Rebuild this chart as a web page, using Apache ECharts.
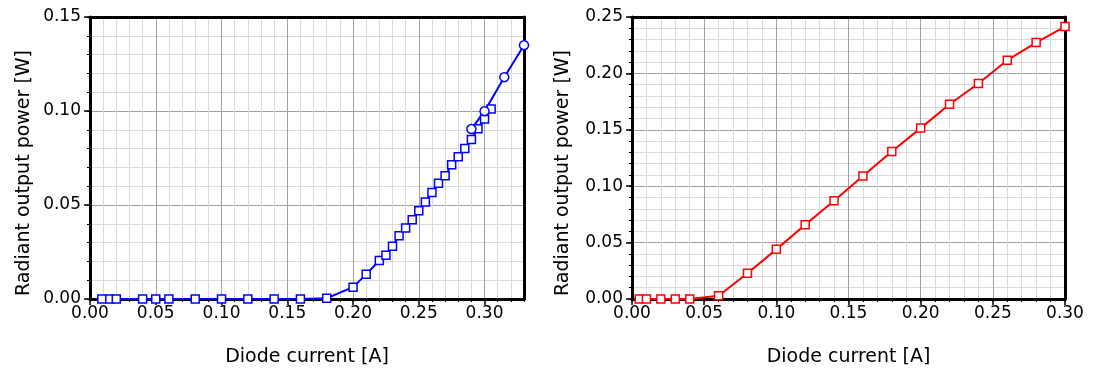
<!DOCTYPE html>
<html>
<head>
<meta charset="utf-8">
<script src="https://cdn.jsdelivr.net/npm/echarts@6/dist/echarts.min.js"></script>
<style>html,body{margin:0;padding:0;background:#fff;}#chart{width:1094px;height:369px;}</style>
</head>
<body>
<div id="chart"></div>
<script>
// ---- Data ----
const leftSquareX = [0.009, 0.015, 0.02, 0.04, 0.05, 0.06, 0.08, 0.10, 0.12, 0.14, 0.16, 0.18, 0.20, 0.21, 0.22, 0.225, 0.23, 0.235, 0.24, 0.245, 0.25, 0.255, 0.26, 0.265, 0.27, 0.275, 0.28, 0.285, 0.29, 0.295, 0.30, 0.305];
const leftSquareY = [0, 0, 0, 0, 0, 0, 0, 0, 0, 0, 0, 0.0004, 0.0063, 0.0131, 0.0205, 0.0233, 0.028, 0.0336, 0.0378, 0.0421, 0.047, 0.0516, 0.0566, 0.0616, 0.0656, 0.0714, 0.0757, 0.0801, 0.0849, 0.0906, 0.0957, 0.101];
const leftCircleX = [0.29, 0.30, 0.315, 0.33];
const leftCircleY = [0.0904, 0.0999, 0.118, 0.135];
const rightX = [0.005, 0.01, 0.02, 0.03, 0.04, 0.06, 0.08, 0.10, 0.12, 0.14, 0.16, 0.18, 0.20, 0.22, 0.24, 0.26, 0.28, 0.30];
const rightY = [0, 0, 0, 0, 0, 0.0029, 0.0228, 0.044, 0.0658, 0.0871, 0.109, 0.1308, 0.1515, 0.1727, 0.191, 0.2117, 0.2273, 0.2415];
const leftXTicks = [0, 0.05, 0.10, 0.15, 0.20, 0.25, 0.30];
const leftYTicks = [0, 0.05, 0.10, 0.15];
const rightXTicks = [0, 0.05, 0.10, 0.15, 0.20, 0.25, 0.30];
const rightYTicks = [0, 0.05, 0.10, 0.15, 0.20, 0.25];
const xName = 'Diode current [A]';
const yName = 'Radiant output power [W]';

const zip = (xs, ys) => xs.map((x, i) => [x, ys[i]]);
const FONT = 'DejaVu Sans';
const MAJOR = '#a0a0a0', MINOR = '#dadada';
const gridColors = [MAJOR, MINOR, MINOR, MINOR, MINOR];
const fmt = v => (Math.abs(v * 20 - Math.round(v * 20)) < 1e-6 ? v.toFixed(2) : '');

function axesFor(dim, g, max, ticks, nameGap) {
  const isX = dim === 'x';
  const pos = isX ? 'bottom' : 'left';
  const opp = isX ? 'top' : 'right';
  const base = { type: 'value', gridIndex: g, min: 0, max: max };
  return [
    // minor grid (every 0.01, darker every 0.05) and minor ticks
    Object.assign({}, base, {
      position: pos, interval: 0.01,
      axisLine: { show: false, onZero: false },
      axisTick: { show: true, length: 3, inside: false, lineStyle: { color: '#000', width: 1 } },
      axisLabel: { show: false },
      splitLine: { show: true, lineStyle: { color: gridColors, width: 1 } }
    }),
    // main axis with labels, major ticks and name
    Object.assign({}, base, {
      position: pos, interval: 0.05,
      name: isX ? xName : yName,
      nameLocation: 'middle', nameGap: nameGap,
      nameTextStyle: isX
        ? { fontFamily: FONT, fontSize: 19, color: '#000' }
        : { fontFamily: FONT, fontSize: 19, color: '#000', padding: [0, 30, 0, 0] },
      axisLine: { show: true, onZero: false, lineStyle: { color: '#000', width: 3 } },
      axisTick: { show: true, length: 6, customValues: ticks, lineStyle: { color: '#000', width: 1.5 } },
      axisLabel: { show: true, customValues: ticks, formatter: fmt, fontFamily: FONT, fontSize: 17, color: '#000', margin: isX ? 6 : 9 },
      splitLine: { show: false },
      minorSplitLine: { show: false }
    }),
    // frame side
    Object.assign({}, base, {
      position: opp, interval: 0.05,
      axisLine: { show: true, onZero: false, lineStyle: { color: '#000', width: 3 } },
      axisTick: { show: false }, axisLabel: { show: false }, splitLine: { show: false }
    })
  ];
}

const option = {
  animation: false,
  backgroundColor: '#fff',
  grid: [
    { left: 90, top: 17, width: 434, height: 282, containLabel: false, outerBoundsMode: 'none' },
    { left: 632, top: 17, width: 433, height: 282, containLabel: false, outerBoundsMode: 'none' }
  ],
  xAxis: [].concat(axesFor('x', 0, 0.33, leftXTicks, 49), axesFor('x', 1, 0.30, rightXTicks, 49)),
  yAxis: [].concat(axesFor('y', 0, 0.15, leftYTicks, 56), axesFor('y', 1, 0.25, rightYTicks, 59)),
  series: [
    {
      type: 'line', xAxisIndex: 0, yAxisIndex: 0, data: zip(leftSquareX, leftSquareY),
      symbol: 'rect', symbolSize: 8, clip: false,
      lineStyle: { color: '#0000ff', width: 2 },
      itemStyle: { color: '#fff', borderColor: '#0000ff', borderWidth: 1.5 }
    },
    {
      type: 'line', xAxisIndex: 0, yAxisIndex: 0, data: zip(leftCircleX, leftCircleY),
      symbol: 'circle', symbolSize: 9, clip: false,
      lineStyle: { color: '#0000ff', width: 2 },
      itemStyle: { color: '#fff', borderColor: '#0000ff', borderWidth: 1.5 }
    },
    {
      type: 'line', xAxisIndex: 3, yAxisIndex: 3, data: zip(rightX, rightY),
      symbol: 'rect', symbolSize: 8, clip: false,
      lineStyle: { color: '#ff0000', width: 2 },
      itemStyle: { color: '#fff', borderColor: '#ff0000', borderWidth: 1.5 }
    }
  ]
};

const chart = echarts.init(document.getElementById('chart'), null, { renderer: 'canvas' });
chart.setOption(option);
</script>
</body>
</html>
